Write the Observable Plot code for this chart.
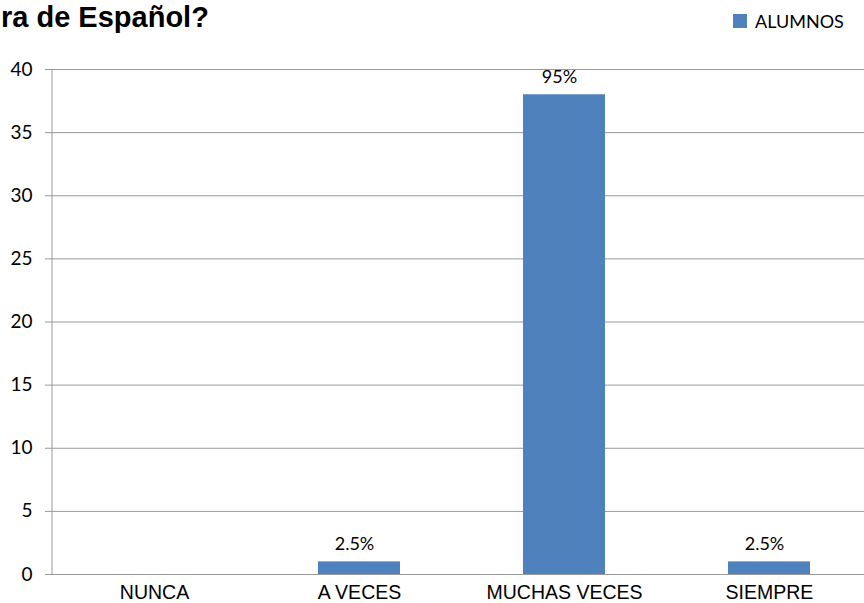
<!DOCTYPE html>
<html>
<head>
<meta charset="utf-8">
<script src="https://cdn.jsdelivr.net/npm/d3@7"></script>
<script src="https://cdn.jsdelivr.net/npm/@observablehq/plot@0.6"></script>
<style>
  html, body { margin: 0; padding: 0; background: #fff; overflow: hidden; }
  #chart { position: relative; width: 864px; height: 603px; }
  #chart svg { display: block; overflow: hidden; }
</style>
</head>
<body>
<div id="chart"></div>
<script>
const titleText = "ra de Español?";
const seriesName = "ALUMNOS";
const categories = ["NUNCA", "A VECES", "MUCHAS VECES", "SIEMPRE"];
const values = [0, 1, 38, 1];
const valueLabels = ["", "2.5%", "95%", "2.5%"];
const yTicks = [0, 5, 10, 15, 20, 25, 30, 35, 40];

const barColor = "#4F81BD";
const gridColor = "#999999";
const calibriLike = "Lato, 'Open Sans', sans-serif";
const arialLike = "'Liberation Sans', Arial, sans-serif";

const data = categories.map((c, i) => ({cat: c, val: values[i], label: valueLabels[i]}));

const chart = Plot.plot({
  width: 864,
  height: 603,
  marginTop: 69,
  marginBottom: 29,
  marginLeft: 52,
  marginRight: 0,
  style: {background: "#fff", color: "#000"},
  x: {domain: categories, range: [50, 873], paddingInner: 0.6, paddingOuter: 0.3, label: null},
  y: {domain: [0, 40], label: null},
  marks: [
    Plot.gridY(yTicks, {stroke: gridColor, strokeOpacity: 1, strokeWidth: 1}),
    Plot.axisY(yTicks, {tickSize: 7, tickPadding: 13, stroke: gridColor, fontSize: 19, fontFamily: calibriLike, fill: "#000", label: null}),
    Plot.axisX({tickSize: 0, tickPadding: 11, fontSize: 19.5, fontFamily: arialLike, fill: "#000", label: null}),
    Plot.barY(data, {x: "cat", y: "val", fill: barColor}),
    Plot.text(data.filter(d => d.label), {x: "cat", y: "val", text: "label", dy: -12, dx: -5, lineAnchor: "bottom", fontSize: 18, fontFamily: calibriLike, fill: "#000"})
  ]
});

document.getElementById("chart").appendChild(chart);

const svg = d3.select(chart);
// y axis line
svg.append("line")
  .attr("x1", 52).attr("x2", 52)
  .attr("y1", 69).attr("y2", 574)
  .attr("stroke", gridColor).attr("stroke-width", 1);
// title (cropped in the reference)
svg.append("text")
  .attr("x", 1).attr("y", 27)
  .attr("text-anchor", "start")
  .attr("font-family", arialLike)
  .attr("font-weight", "bold")
  .attr("font-size", 29)
  .attr("fill", "#000")
  .text(titleText);
// legend
const lg = svg.append("g");
lg.append("rect").attr("x", 733).attr("y", 14).attr("width", 14).attr("height", 14).attr("fill", barColor);
lg.append("text").attr("x", 755).attr("y", 28)
  .attr("text-anchor", "start")
  .attr("font-family", calibriLike).attr("font-size", 18).attr("fill", "#000")
  .text(seriesName);
</script>
</body>
</html>
